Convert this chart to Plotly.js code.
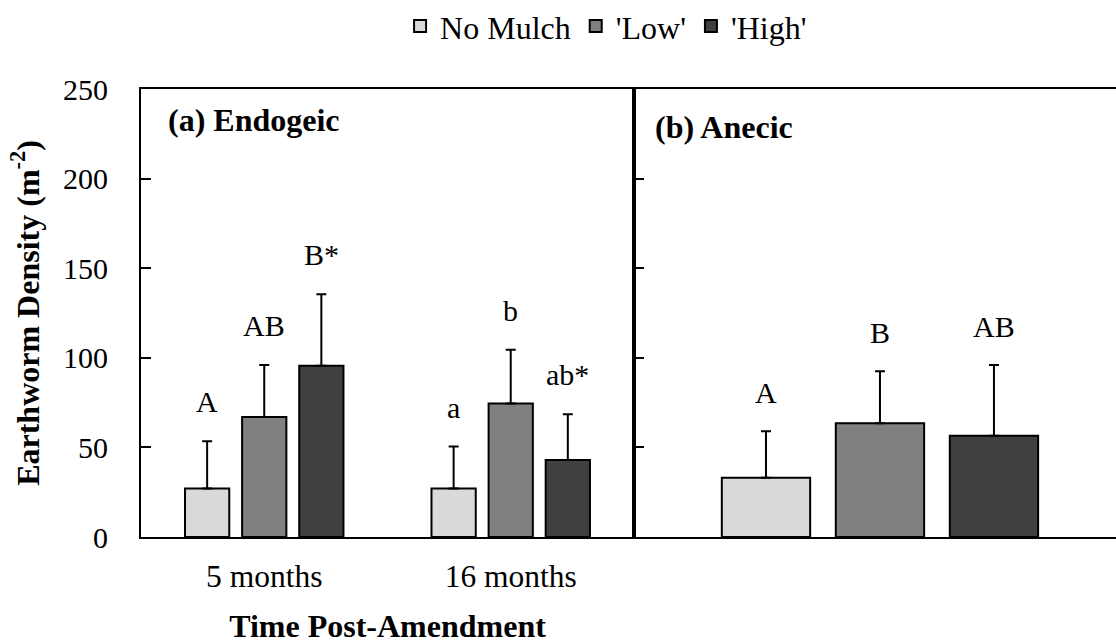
<!DOCTYPE html>
<html><head><meta charset="utf-8">
<script src="https://cdn.plot.ly/plotly-3.0.1.min.js"></script>
<style>html,body{margin:0;padding:0;background:#fff}</style>
</head><body><div id="chart" style="width:1116px;height:644px"></div>
<script>
// ---- data ----
const categories = ['5 months', '16 months'];
const anecicCategory = ['Anecic'];
const seriesNames = ['No Mulch', "'Low'", "'High'"];
const seriesColors = ['#d9d9d9', '#808080', '#404040'];

const endogeicNoMulch = [27, 27];
const endogeicLow = [67, 74.5];
const endogeicHigh = [95.5, 43];
const endogeicNoMulchErr = [26.5, 23.5];
const endogeicLowErr = [29, 30];
const endogeicHighErr = [40, 25.5];
const endogeicNoMulchLetters = ['A', 'a'];
const endogeicLowLetters = ['AB', 'b'];
const endogeicHighLetters = ['B*', 'ab*'];

const anecicNoMulch = [33];
const anecicLow = [63.5];
const anecicHigh = [56.5];
const anecicNoMulchErr = [26];
const anecicLowErr = [29];
const anecicHighErr = [39.5];
const anecicNoMulchLetters = ['A'];
const anecicLowLetters = ['B'];
const anecicHighLetters = ['AB'];

const yTicks = [0, 50, 100, 150, 200, 250];
const panelLabels = ['(a) Endogeic', '(b) Anecic'];

// ---- styling ----
const FONT = '"Liberation Serif", "Times New Roman", Times, serif';
const BARGAP = 0.305, BARGROUPGAP = 0.225;
const slot = (1 - BARGAP) / 3;

const endoVals = [endogeicNoMulch, endogeicLow, endogeicHigh];
const endoErrs = [endogeicNoMulchErr, endogeicLowErr, endogeicHighErr];
const endoLet = [endogeicNoMulchLetters, endogeicLowLetters, endogeicHighLetters];
const aneVals = [anecicNoMulch, anecicLow, anecicHigh];
const aneErrs = [anecicNoMulchErr, anecicLowErr, anecicHighErr];
const aneLet = [anecicNoMulchLetters, anecicLowLetters, anecicHighLetters];

function barTrace(x, y, err, i, xa, ya, showLegend) {
  return {
    type: 'bar', x: x, y: y, name: seriesNames[i], xaxis: xa, yaxis: ya,
    showlegend: showLegend,
    marker: {color: seriesColors[i], line: {color: '#000', width: 2}},
    error_y: {type: 'data', symmetric: false, array: err, arrayminus: err.map(() => 0),
              color: '#000', thickness: 2, width: 5}
  };
}

const traces = [];
for (let i = 0; i < 3; i++) traces.push(barTrace(categories, endoVals[i], endoErrs[i], i, 'x', 'y', true));
for (let i = 0; i < 3; i++) traces.push(barTrace(anecicCategory, aneVals[i], aneErrs[i], i, 'x2', 'y2', false));

const annotations = [];
const letterFont = {family: FONT, size: 30, color: '#000'};
for (let i = 0; i < 3; i++) {
  categories.forEach((c, k) => {
    annotations.push({xref: 'x', yref: 'y', x: k + (i - 1) * slot, y: endoVals[i][k] + endoErrs[i][k],
      text: endoLet[i][k], showarrow: false, yanchor: 'bottom', yshift: 21, font: letterFont});
  });
  anecicCategory.forEach((c, k) => {
    annotations.push({xref: 'x2', yref: 'y2', x: k + (i - 1) * slot, y: aneVals[i][k] + aneErrs[i][k],
      text: aneLet[i][k], showarrow: false, yanchor: 'bottom', yshift: 20, font: letterFont});
  });
}
const boldFont = {family: FONT, size: 32, color: '#000', weight: 'bold'};
annotations.push({xref: 'x domain', yref: 'y domain', x: 0.05, y: 0.93, xanchor: 'left', yanchor: 'middle',
  text: panelLabels[0], showarrow: false, font: boldFont});
annotations.push({xref: 'x2 domain', yref: 'y2 domain', x: 0.04, y: 0.915, xanchor: 'left', yanchor: 'middle',
  text: panelLabels[1], showarrow: false, font: boldFont});

const axisLine = {showline: true, linecolor: '#000', linewidth: 2, showgrid: false, zeroline: false};
const layout = {
  width: 1116, height: 644,
  margin: {l: 141, r: 0, t: 89, b: 107, autoexpand: false},
  paper_bgcolor: '#fff', plot_bgcolor: '#fff',
  font: {family: FONT, size: 30, color: '#000'},
  barmode: 'group', bargap: BARGAP, bargroupgap: BARGROUPGAP,
  showlegend: true,
  legend: {orientation: 'h', x: 0.477, xanchor: 'center', y: 1.14, yanchor: 'middle',
           font: {family: FONT, size: 32, color: '#000'}, itemwidth: 30, bgcolor: 'rgba(0,0,0,0)'},
  xaxis: Object.assign({}, axisLine, {
    domain: [0, 0.5056], type: 'category', range: [-0.5, 1.5], mirror: true, ticks: '',
    tickfont: {family: FONT, size: 31.5, color: '#000'}, ticklabelstandoff: 10,
    title: {text: 'Time Post-Amendment', font: boldFont, standoff: 22}
  }),
  yaxis: Object.assign({}, axisLine, {
    range: [0, 250], tickvals: yTicks, ticks: 'inside', ticklen: 10, tickwidth: 2, tickcolor: '#000',
    mirror: true, tickfont: {family: FONT, size: 30, color: '#000'}, ticklabelstandoff: 25,
    title: {text: 'Earthworm Density (m<sup>-2</sup>)', font: boldFont, standoff: 14}
  }),
  xaxis2: Object.assign({}, axisLine, {
    domain: [0.5056, 1], anchor: 'y2', type: 'category', range: [-0.5, 0.4797], mirror: true,
    ticks: '', showticklabels: false
  }),
  yaxis2: Object.assign({}, axisLine, {
    anchor: 'x2', range: [0, 250], tickvals: yTicks, ticks: 'inside', ticklen: 10, tickwidth: 2,
    tickcolor: '#000', showticklabels: false, mirror: false
  }),
  annotations: annotations
};
Plotly.newPlot('chart', traces, layout, {displayModeBar: false, staticPlot: true});
</script></body></html>
